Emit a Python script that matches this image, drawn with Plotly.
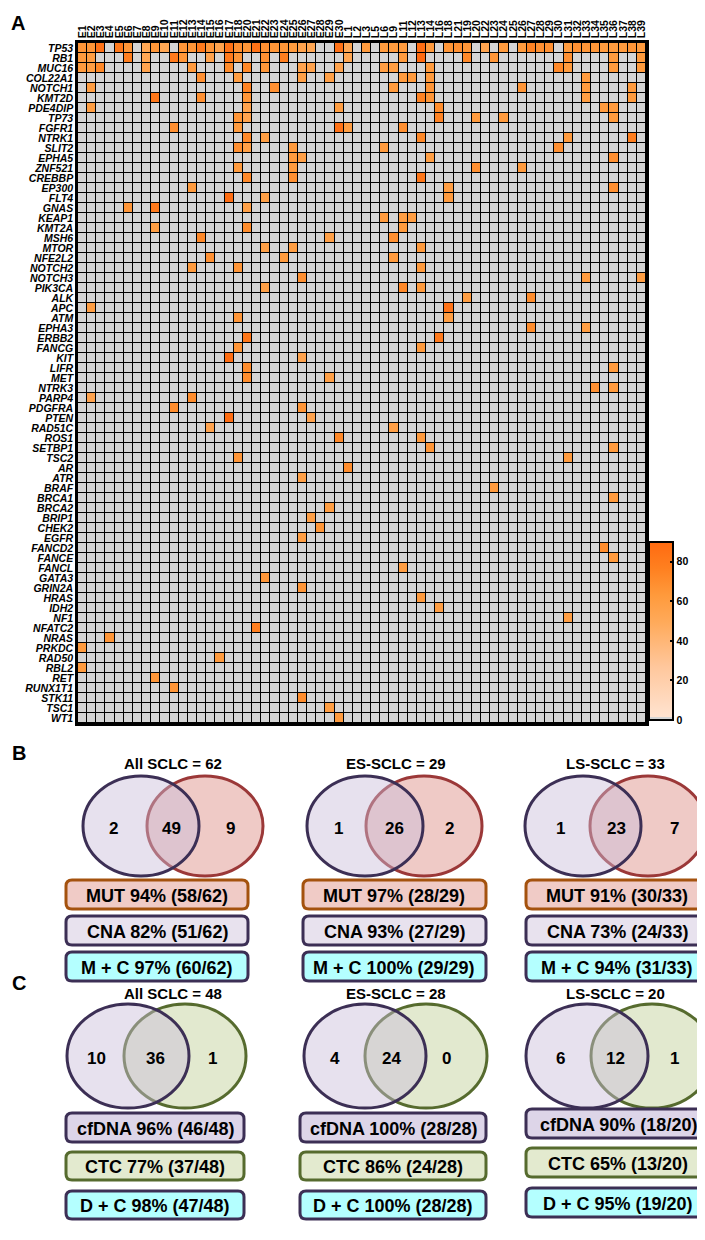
import plotly.graph_objects as go

W, H = 705, 1240

# ---------------- data ----------------
samples = ["E1", "E2", "E3", "E4", "E5", "E6", "E7", "E8", "E9", "E10", "E11", "E12", "E13", "E14",
           "E15", "E16", "E17", "E18", "E20", "E21", "E22", "E23", "E24", "E25", "E26", "E27", "E28",
           "E29", "E30", "L1", "L2", "L3", "L5", "L6", "L9", "L11", "L12", "L13", "L14", "L16", "L18",
           "L21", "L19", "L20", "L22", "L23", "L24", "L25", "L26", "L27", "L28", "L29", "L30", "L31",
           "L32", "L33", "L34", "L35", "L36", "L37", "L38", "L39"]

genes = ["TP53", "RB1", "MUC16", "COL22A1", "NOTCH1", "KMT2D", "PDE4DIP", "TP73", "FGFR1", "NTRK1",
         "SLIT2", "EPHA5", "ZNF521", "CREBBP", "EP300", "FLT4", "GNAS", "KEAP1", "KMT2A", "MSH6",
         "MTOR", "NFE2L2", "NOTCH2", "NOTCH3", "PIK3CA", "ALK", "APC", "ATM", "EPHA3", "ERBB2",
         "FANCG", "KIT", "LIFR", "MET", "NTRK3", "PARP4", "PDGFRA", "PTEN", "RAD51C", "ROS1",
         "SETBP1", "TSC2", "AR", "ATR", "BRAF", "BRCA1", "BRCA2", "BRIP1", "CHEK2", "EGFR",
         "FANCD2", "FANCE", "FANCL", "GATA3", "GRIN2A", "HRAS", "IDH2", "NF1", "NFATC2", "NRAS",
         "PRKDC", "RAD50", "RBL2", "RET", "RUNX1T1", "STK11", "TSC1", "WT1"]

# samples carrying an alteration in each gene
mutated_samples = {
    "TP53": ["E1", "E2", "E3", "E5", "E6", "E8", "E9", "E10", "E12", "E13", "E14", "E15", "E16", "E17",
             "E18", "E20", "E21", "E22", "E23", "E24", "E25", "E26", "E27", "E30",
             "L1", "L3", "L6", "L9", "L11", "L13", "L14", "L18", "L21", "L19", "L22", "L24", "L26",
             "L27", "L28", "L29", "L31", "L32", "L33", "L34", "L35", "L36", "L37", "L38", "L39"],
    "RB1": ["E1", "E2", "E6", "E8", "E11", "E12", "E15", "E17", "E18", "E22", "E24", "L1", "L11",
            "L13", "L19", "L23", "L31", "L36", "L39"],
    "MUC16": ["E1", "E2", "E3", "E8", "E13", "E17", "E20", "E22", "E26", "E27", "E30", "L6", "L9",
              "L14", "L30", "L31", "L36", "L39"],
    "COL22A1": ["E14", "E18", "E26", "E29", "L11", "L12", "L14", "L33"],
    "NOTCH1": ["E2", "E20", "E23", "L9", "L14", "L26", "L33", "L38"],
    "KMT2D": ["E9", "E14", "E20", "L13", "L14", "L33", "L38"],
    "PDE4DIP": ["E2", "E20", "E30", "L16", "L35", "L36"],
    "TP73": ["E18", "E20", "L16", "L20", "L24", "L36"],
    "FGFR1": ["E11", "E18", "E30", "L1", "L11"],
    "NTRK1": ["E20", "E22", "L13", "L31", "L38"],
    "SLIT2": ["E18", "E20", "E25", "L6", "L30"],
    "EPHA5": ["E25", "E26", "L14", "L36"],
    "ZNF521": ["E18", "E25", "L20", "L26"],
    "CREBBP": ["E20", "E25", "L13"],
    "EP300": ["E13", "L18", "L36"],
    "FLT4": ["E17", "E22", "L18"],
    "GNAS": ["E6", "E9", "E20"],
    "KEAP1": ["L6", "L11", "L12"],
    "KMT2A": ["E9", "E20", "L11"],
    "MSH6": ["E14", "E29", "L9"],
    "MTOR": ["E22", "E25", "L13"],
    "NFE2L2": ["E15", "E24", "L9"],
    "NOTCH2": ["E13", "E18", "L13"],
    "NOTCH3": ["E26", "L33", "L39"],
    "PIK3CA": ["E22", "L11", "L13"],
    "ALK": ["L19", "L27"],
    "APC": ["E2", "L18"],
    "ATM": ["E18", "L18"],
    "EPHA3": ["L27", "L33"],
    "ERBB2": ["E20", "L16"],
    "FANCG": ["E18", "L13"],
    "KIT": ["E17", "E26"],
    "LIFR": ["E20", "L36"],
    "MET": ["E20", "E29"],
    "NTRK3": ["L34", "L36"],
    "PARP4": ["E2", "E13"],
    "PDGFRA": ["E11", "E26"],
    "PTEN": ["E17", "E27"],
    "RAD51C": ["E15", "L9"],
    "ROS1": ["E30", "L13"],
    "SETBP1": ["L14", "L36"],
    "TSC2": ["E18", "L31"],
    "AR": ["L1"],
    "ATR": ["E26"],
    "BRAF": ["L23"],
    "BRCA1": ["L36"],
    "BRCA2": ["E29"],
    "BRIP1": ["E27"],
    "CHEK2": ["E28"],
    "EGFR": ["E26"],
    "FANCD2": ["L35"],
    "FANCE": ["L36"],
    "FANCL": ["L11"],
    "GATA3": ["E22"],
    "GRIN2A": ["E26"],
    "HRAS": ["L13"],
    "IDH2": ["L16"],
    "NF1": ["L31"],
    "NFATC2": ["E21"],
    "NRAS": ["E4"],
    "PRKDC": ["E1"],
    "RAD50": ["E16"],
    "RBL2": ["E1"],
    "RET": ["E9"],
    "RUNX1T1": ["E11"],
    "STK11": ["E26"],
    "TSC1": ["E29"],
    "WT1": ["E30"],
}

# matching allele frequencies (%)
mutation_vaf = {
    "TP53": [65, 65, 85, 80, 65, 52, 65, 52, 65, 65, 80, 65, 55, 85, 68, 65, 85, 68, 65, 65, 62, 55, 52, 85,
             52, 62, 62, 62, 62, 88, 62, 65, 68, 65, 55, 62, 62, 75, 68, 68, 62, 68, 65, 65, 62, 62, 62, 65, 62],
    "RB1": [62, 60, 78, 52, 80, 65, 55, 80, 65, 68, 78, 52, 62, 90, 72, 65, 68, 62, 62],
    "MUC16": [62, 60, 72, 55, 62, 70, 72, 65, 55, 55, 55, 60, 60, 62, 72, 62, 62, 62],
    "COL22A1": [68, 60, 58, 58, 62, 62, 62, 62],
    "NOTCH1": [60, 75, 68, 62, 65, 65, 62, 62],
    "KMT2D": [82, 68, 65, 75, 65, 60, 62],
    "PDE4DIP": [60, 55, 60, 70, 62, 62],
    "TP73": [65, 55, 75, 62, 62, 62],
    "FGFR1": [68, 62, 85, 60, 68],
    "NTRK1": [72, 60, 72, 62, 78],
    "SLIT2": [68, 58, 62, 62, 68],
    "EPHA5": [62, 58, 60, 68],
    "ZNF521": [62, 62, 68, 62],
    "CREBBP": [72, 68, 82],
    "EP300": [62, 60, 68],
    "FLT4": [88, 58, 62],
    "GNAS": [65, 80, 58],
    "KEAP1": [62, 60, 60],
    "KMT2A": [60, 70, 62],
    "MSH6": [72, 58, 68],
    "MTOR": [58, 60, 62],
    "NFE2L2": [68, 62, 62],
    "NOTCH2": [62, 65, 62],
    "NOTCH3": [68, 62, 60],
    "PIK3CA": [58, 72, 62],
    "ALK": [60, 70],
    "APC": [60, 85],
    "ATM": [65, 60],
    "EPHA3": [70, 60],
    "ERBB2": [82, 80],
    "FANCG": [65, 62],
    "KIT": [88, 55],
    "LIFR": [70, 62],
    "MET": [70, 58],
    "NTRK3": [68, 62],
    "PARP4": [55, 70],
    "PDGFRA": [70, 65],
    "PTEN": [88, 55],
    "RAD51C": [55, 58],
    "ROS1": [72, 62],
    "SETBP1": [65, 62],
    "TSC2": [65, 62],
    "AR": [70],
    "ATR": [58],
    "BRAF": [62],
    "BRCA1": [62],
    "BRCA2": [60],
    "BRIP1": [58],
    "CHEK2": [65],
    "EGFR": [60],
    "FANCD2": [70],
    "FANCE": [62],
    "FANCL": [60],
    "GATA3": [65],
    "GRIN2A": [65],
    "HRAS": [62],
    "IDH2": [60],
    "NF1": [60],
    "NFATC2": [78],
    "NRAS": [65],
    "PRKDC": [62],
    "RAD50": [62],
    "RBL2": [62],
    "RET": [65],
    "RUNX1T1": [65],
    "STK11": [70],
    "TSC1": [60],
    "WT1": [62],
}

colorbar_ticks = [0, 20, 40, 60, 80]

# Venn panel B (CNA vs MUT)
b_titles = ["All SCLC", "ES-SCLC", "LS-SCLC"]
b_totals = [62, 29, 33]
b_cna_only = [2, 1, 1]
b_both = [49, 26, 23]
b_mut_only = [9, 2, 7]
b_mut = [(94, 58), (97, 28), (91, 30)]
b_cna = [(82, 51), (93, 27), (73, 24)]
b_mc = [(97, 60), (100, 29), (94, 31)]

# Venn panel C (cfDNA vs CTC)
c_titles = ["All SCLC", "ES-SCLC", "LS-SCLC"]
c_totals = [48, 28, 20]
c_dna_only = [10, 4, 6]
c_both = [36, 24, 12]
c_ctc_only = [1, 0, 1]
c_dna = [(96, 46), (100, 28), (90, 18)]
c_ctc = [(77, 37), (86, 24), (65, 13)]
c_dc = [(98, 47), (100, 28), (95, 19)]

# ---------------- build matrix ----------------
z = [[0.0] * len(samples) for _ in genes]
for gi, g in enumerate(genes):
    for s, v in zip(mutated_samples[g], mutation_vaf[g]):
        z[gi][samples.index(s)] = v


def px(x):
    return x / W


def py(y):
    return 1 - y / H


FONT = "Liberation Sans, Arial, sans-serif"

fig = go.Figure()

fig.add_trace(go.Heatmap(
    z=z, x=samples, y=genes, zmin=0, zmax=90,
    xgap=1, ygap=1,
    colorscale=[[0.0, "#d4d4d4"], [0.015, "#d4d4d4"], [0.016, "#ffe3d0"], [0.3, "#ffc79c"],
                [0.55, "#ffaa5a"], [0.7, "#ff9a3c"], [0.85, "#ff8020"], [1.0, "#ff6a10"]],
    colorbar=dict(
        x=px(641), xanchor="left", y=py(712), yanchor="bottom",
        lenmode="pixels", len=178, thickness=24, thicknessmode="pixels",
        outlinewidth=2, outlinecolor="black", xpad=0, ypad=0,
        tickvals=colorbar_ticks, ticks="inside", ticklen=4, tickwidth=2, tickcolor="black",
        tickfont=dict(family=FONT, size=10.5, color="black", weight="bold"),
    ),
    showscale=True,
    hoverongaps=False,
))

fig.update_xaxes(
    domain=[px(70), px(638)], side="top", tickangle=-90,
    tickmode="array", tickvals=samples, ticktext=samples,
    tickfont=dict(family=FONT, size=10.5, color="black", weight="bold"),
    showline=True, mirror=True, linewidth=2.5, linecolor="black",
    showgrid=False, zeroline=False, ticks="", automargin=False,
)
fig.update_yaxes(
    domain=[py(715), py(35)], autorange="reversed",
    tickmode="array", tickvals=genes, ticktext=genes,
    tickfont=dict(family=FONT, size=10.5, color="black", weight="bold", style="italic"),
    showline=True, mirror=True, linewidth=2.5, linecolor="black",
    showgrid=False, zeroline=False, ticks="", automargin=False,
)

shapes = []
annotations = []


def label(x, y, text, size, anchor="center"):
    annotations.append(dict(x=px(x), y=py(y), xref="paper", yref="paper", text=text,
                            showarrow=False, xanchor=anchor, yanchor="middle",
                            font=dict(family=FONT, size=size, color="black", weight="bold")))


def ellipse(cx, cy, rx, ry, fill, line):
    shapes.append(dict(type="circle", xref="paper", yref="paper",
                       x0=px(cx - rx), x1=px(cx + rx), y0=py(cy + ry), y1=py(cy - ry),
                       fillcolor=fill, line=dict(color=line, width=3)))


def rbox(x0, y0, x1, y1, fill, line, r=6):
    pts = (f"M {px(x0 + r)},{py(y0)} L {px(x1 - r)},{py(y0)} Q {px(x1)},{py(y0)} {px(x1)},{py(y0 + r)} "
           f"L {px(x1)},{py(y1 - r)} Q {px(x1)},{py(y1)} {px(x1 - r)},{py(y1)} "
           f"L {px(x0 + r)},{py(y1)} Q {px(x0)},{py(y1)} {px(x0)},{py(y1 - r)} "
           f"L {px(x0)},{py(y0 + r)} Q {px(x0)},{py(y0)} {px(x0 + r)},{py(y0)} Z")
    shapes.append(dict(type="path", xref="paper", yref="paper", path=pts,
                       fillcolor=fill, line=dict(color=line, width=3)))


# panel letters
label(10, 15, "A", 20)
label(11, 745, "B", 20)
label(11, 975, "C", 20)

PURPLE = "#3c2f55"
LAV = "rgba(202,189,218,0.45)"

# ---- panel B ----
b_title_x = [165, 388, 607]
b_left_cx = [133, 357, 575]
b_right_cx = [197, 416, 640]
b_num_x = [(105, 163, 222), (330, 386, 441), (552, 608, 666)]
b_box_x = [(58, 240), (295, 478), (518, 700)]
b_box_y = [(872, 901), (908, 937), (944, 973)]
for i in range(3):
    label(b_title_x[i], 756, f"{b_titles[i]} = {b_totals[i]}", 15)
    ellipse(b_right_cx[i], 818, 58, 50, "#efcac6", "#9b3838")
    ellipse(b_left_cx[i], 818, 58, 50, LAV, PURPLE)
    for xx, n in zip(b_num_x[i], (b_cna_only[i], b_both[i], b_mut_only[i])):
        label(xx, 820, str(n), 17)
    x0, x1 = b_box_x[i]
    rows = [(f"MUT {b_mut[i][0]}% ({b_mut[i][1]}/{b_totals[i]})", "#f0cbc6", "#a4520e"),
            (f"CNA {b_cna[i][0]}% ({b_cna[i][1]}/{b_totals[i]})", "#e8e2ee", PURPLE),
            (f"M + C {b_mc[i][0]}% ({b_mc[i][1]}/{b_totals[i]})", "#b4ffff", PURPLE)]
    for (y0, y1), (txt, fill, line) in zip(b_box_y, rows):
        rbox(x0, y0, x1, y1, fill, line)
        label((x0 + x1) / 2, (y0 + y1) / 2 + 1, txt, 18)

# ---- panel C ----
c_title_x = [165, 388, 607]
c_left_cx = [120, 357, 579]
c_right_cx = [177, 418, 644]
c_num_x = [(88, 147, 205), (327, 383, 438), (552, 607, 666)]
c_box_x = [(58, 236), (292, 478), (518, 702)]
c_box_y = [[(1105, 1134), (1144, 1172), (1183, 1211)],
           [(1105, 1134), (1144, 1172), (1183, 1211)],
           [(1101, 1130), (1140, 1169), (1180, 1209)]]
for i in range(3):
    label(c_title_x[i], 985, f"{c_titles[i]} = {c_totals[i]}", 15)
    ellipse(c_right_cx[i], 1048, 61, 52, "#e2e9cf", "#566b2e")
    ellipse(c_left_cx[i], 1048, 61, 52, LAV, PURPLE)
    for xx, n in zip(c_num_x[i], (c_dna_only[i], c_both[i], c_ctc_only[i])):
        label(xx, 1050, str(n), 17)
    x0, x1 = c_box_x[i]
    rows = [(f"cfDNA {c_dna[i][0]}% ({c_dna[i][1]}/{c_totals[i]})", "#ddd5e8", PURPLE),
            (f"CTC {c_ctc[i][0]}% ({c_ctc[i][1]}/{c_totals[i]})", "#e3eacf", "#566b2e"),
            (f"D + C {c_dc[i][0]}% ({c_dc[i][1]}/{c_totals[i]})", "#b4ffff", PURPLE)]
    for (y0, y1), (txt, fill, line) in zip(c_box_y[i], rows):
        rbox(x0, y0, x1, y1, fill, line)
        label((x0 + x1) / 2, (y0 + y1) / 2 + 1, txt, 18)

fig.update_layout(
    width=W, height=H, margin=dict(l=0, r=0, t=0, b=0, pad=0),
    paper_bgcolor="white", plot_bgcolor="black",
    shapes=shapes, annotations=annotations, showlegend=False,
    font=dict(family=FONT, color="black"),
)

fig.write_html("out.html")
